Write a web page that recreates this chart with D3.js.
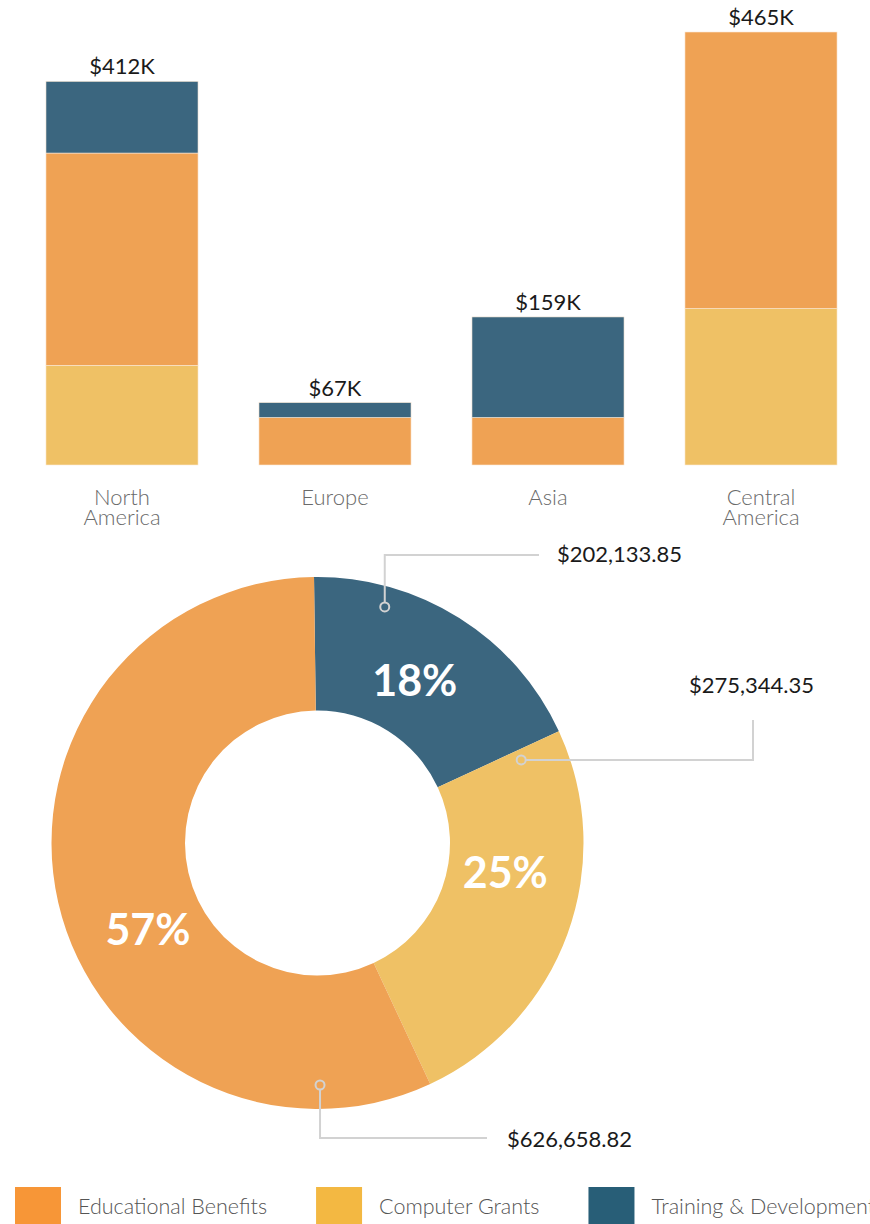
<!DOCTYPE html>
<html><head><meta charset="utf-8">
<script src="https://cdn.jsdelivr.net/npm/d3@7"></script>
<style>html,body{margin:0;padding:0;background:#fff;overflow:hidden}svg{display:block}</style>
</head><body>
<svg id="chart" width="870" height="1224"></svg>
<script>
// ---------------- DATA ----------------
const categories = ["North America", "Europe", "Asia", "Central America"];
const seriesNames = ["Educational Benefits", "Computer Grants", "Training & Development"];
const educational = [228, 51, 51, 297];   // $K
const grants      = [107, 0, 0, 168];     // $K
const training    = [77, 16, 108, 0];     // $K
const donutTotals = [626658.82, 275344.35, 202133.85]; // Educational, Grants, Training

// ---------------- STYLE / LAYOUT ----------------
const barColors    = {edu: "#EFA254", grants: "#EFC165", training: "#3B667F"};
const legendColors = ["#F79637", "#F3B842", "#285E77"];
const FONT = "Lato, 'Open Sans', sans-serif";

const svg = d3.select("#chart");

// ---------- Stacked bars ----------
const rows = categories.map((c, i) => ({cat: c, grants: grants[i], edu: educational[i], training: training[i]}));
const stack = d3.stack().keys(["grants", "edu", "training"]);
const layers = stack(rows);

const x = d3.scaleBand().domain(categories).range([15.5, 867.5]).paddingInner(0.286).paddingOuter(0.143);
const y = d3.scaleLinear().domain([0, 465]).range([465, 32]);

const gBars = svg.append("g");
layers.forEach(layer => {
  gBars.selectAll(null).data(layer).enter().append("rect")
    .attr("x", d => x(d.data.cat))
    .attr("width", x.bandwidth())
    .attr("y", d => y(d[1]))
    .attr("height", d => y(d[0]) - y(d[1]))
    .attr("fill", barColors[layer.key])
    .attr("stroke", "#fbe9d6").attr("stroke-width", 0.6);
});

// totals
gBars.selectAll("text.tot").data(rows).enter().append("text")
  .attr("x", d => x(d.cat) + x.bandwidth() / 2)
  .attr("y", d => y(d.grants + d.edu + d.training) - 7)
  .attr("text-anchor", "middle")
  .attr("font-family", FONT).attr("font-size", 22).attr("fill", "#1a1a1a")
  .text(d => "$" + (d.grants + d.edu + d.training) + "K");

// category labels
const xAxisG = svg.append("g");
categories.forEach(c => {
  const words = c.split(" ");
  const t = xAxisG.append("text")
    .attr("x", x(c) + x.bandwidth() / 2).attr("y", 505)
    .attr("text-anchor", "middle")
    .attr("font-family", FONT).attr("font-weight", 300).attr("font-size", 22).attr("fill", "#6a6a6a");
  words.forEach((w, i) => {
    t.append("tspan").attr("x", x(c) + x.bandwidth() / 2).attr("dy", i === 0 ? 0 : 19.5).text(w);
  });
});

// ---------- Donut ----------
const cx = 317.5, cy = 843, rOuter = 266, rInner = 132.5;
const deg = Math.PI / 180;
const pieData = [
  {key: "training", name: seriesNames[2], value: donutTotals[2], color: barColors.training},
  {key: "grants",   name: seriesNames[1], value: donutTotals[1], color: barColors.grants},
  {key: "edu",      name: seriesNames[0], value: donutTotals[0], color: barColors.edu}
];
const total = d3.sum(pieData, d => d.value);
const pie = d3.pie().sort(null).value(d => d.value)
  .startAngle(-0.75 * deg).endAngle(359.25 * deg);
const arcs = pie(pieData);
const arc = d3.arc().innerRadius(rInner).outerRadius(rOuter);

const gD = svg.append("g").attr("transform", `translate(${cx},${cy})`);
gD.selectAll("path").data(arcs).enter().append("path")
  .attr("d", arc).attr("fill", d => d.data.color);

// percentage labels (angle nudges relative to slice middle, label radius)
const pctNudge = {training: -1.4, grants: -11.3, edu: -13.9};
const pctRadius = 190;
gD.selectAll("text.pct").data(arcs).enter().append("text")
  .each(function(d) {
    const a = (d.startAngle + d.endAngle) / 2 + pctNudge[d.data.key] * deg;
    d3.select(this).attr("x", pctRadius * Math.sin(a)).attr("y", -pctRadius * Math.cos(a));
  })
  .attr("text-anchor", "middle").attr("dominant-baseline", "central")
  .attr("font-family", FONT).attr("font-weight", 700).attr("font-size", 43).attr("fill", "#fff")
  .text(d => d3.format(".0%")(d.value / total));

// leader lines
const leader = {
  training: {ang: 15.9, r: 245.5, path: (px, py) => [[px, py], [px, -288], [221.5, -288]], tx: 239.5, ty: -281, anchor: "start"},
  grants:   {ang: 67.8, r: 220,   path: (px, py) => [[px, py], [435.5, py], [435.5, -123]], tx: 371.5, ty: -150, anchor: "start"},
  edu:      {ang: 179.4, r: 242,  path: (px, py) => [[px, py], [px, 295], [169.5, 295]], tx: 189.5, ty: 304, anchor: "start"}
};
const money = d3.format("$,.2f");
arcs.forEach(d => {
  const L = leader[d.data.key];
  const a = L.ang * deg;
  const px = L.r * Math.sin(a), py = -L.r * Math.cos(a);
  gD.append("path").attr("d", d3.line()(L.path(px, py)))
    .attr("fill", "none").attr("stroke", "#d2d2d2").attr("stroke-width", 2);
  gD.append("circle").attr("cx", px).attr("cy", py).attr("r", 4.5)
    .attr("fill", d.data.color).attr("stroke", "#d2d2d2").attr("stroke-width", 2);
  gD.append("text").attr("x", L.tx).attr("y", L.ty).attr("text-anchor", L.anchor)
    .attr("font-family", FONT).attr("font-size", 22).attr("fill", "#1a1a1a")
    .text(money(d.data.value));
});

// ---------- Legend ----------
const gL = svg.append("g");
let lx = 15;
seriesNames.forEach((s, i) => {
  gL.append("rect").attr("x", lx).attr("y", 1187).attr("width", 46).attr("height", 37).attr("fill", legendColors[i]);
  const t = gL.append("text").attr("x", lx + 63).attr("y", 1214)
    .attr("font-family", FONT).attr("font-weight", 300).attr("font-size", 21.5).attr("fill", "#555").text(s);
  lx += 63 + t.node().getComputedTextLength() + 49;
});
</script>
</body></html>
